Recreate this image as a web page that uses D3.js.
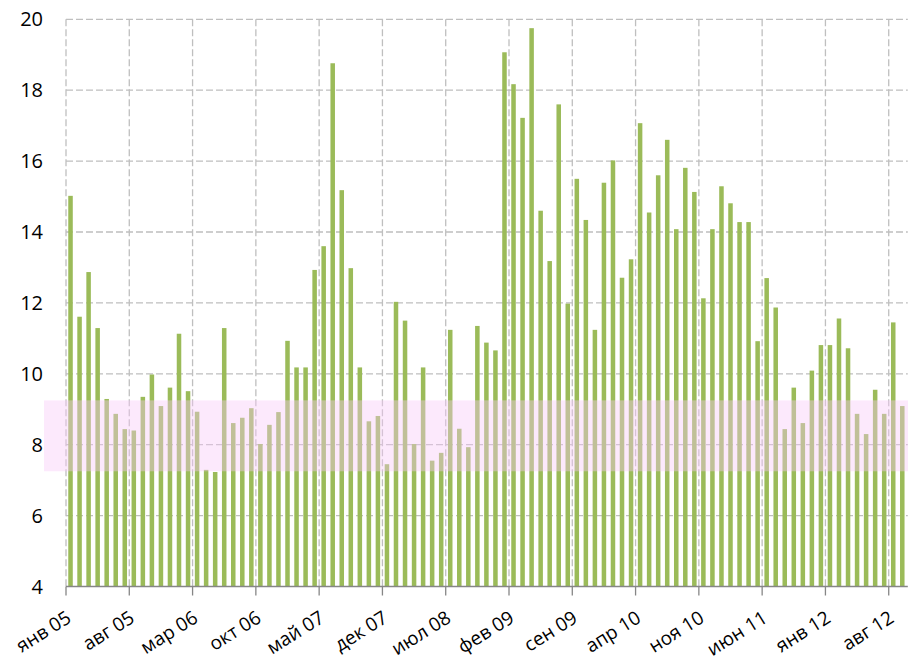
<!DOCTYPE html>
<html>
<head>
<meta charset="utf-8">
<script src="https://cdn.jsdelivr.net/npm/d3@7"></script>
<style>
  html, body { margin: 0; padding: 0; background: #ffffff; }
  svg { display: block; }
  text { font-family: "Open Sans", "Noto Sans", sans-serif; fill: #000; }
</style>
</head>
<body>
<svg id="chart" width="908" height="663"></svg>
<script>
// ---- data ----
const monthNames = ["янв","фев","мар","апр","май","июн","июл","авг","сен","окт","ноя","дек"];
const startYear = 2005;
const monthCount = 93; // Jan 2005 .. Sep 2012
const values = [
  15.02, 11.61, 12.87, 11.29, 9.29, 8.87, 8.44, 8.40, 9.35, 9.98, 9.09, 9.61,
  11.13, 9.51, 8.93, 7.29, 7.23, 11.29, 8.61, 8.76, 9.03, 8.02, 8.56, 8.92,
  10.93, 10.18, 10.18, 12.93, 13.60, 18.76, 15.18, 12.98, 10.18, 8.66, 8.81, 7.45,
  12.03, 11.50, 8.02, 10.18, 7.55, 7.77, 11.24, 8.45, 7.93, 11.35, 10.88, 10.66,
  19.07, 18.17, 17.22, 19.75, 14.60, 13.18, 17.60, 11.98, 15.50, 14.34, 11.24, 15.39,
  16.02, 12.71, 13.23, 17.07, 14.55, 15.60, 16.60, 14.08, 15.81, 15.13, 12.13, 14.08,
  15.29, 14.81, 14.28, 14.28, 10.92, 12.70, 11.87, 8.44, 9.61, 8.61, 10.09, 10.81,
  10.81, 11.56, 10.72, 8.87, 8.30, 9.55, 8.87, 11.45, 9.09
];
const tickLabels = ["янв 05","авг 05","мар 06","окт 06","май 07","дек 07","июл 08",
                    "фев 09","сен 09","апр 10","ноя 10","июн 11","янв 12","авг 12"];
const yTicks = [4, 6, 8, 10, 12, 14, 16, 18, 20];
const bandRange = [7.25, 9.25];

const categories = d3.range(monthCount).map(i =>
  monthNames[i % 12] + " " + String((startYear + Math.floor(i / 12)) % 100).padStart(2, "0"));

// ---- layout ----
const svg = d3.select("#chart");
const pLeft = 66, pRight = 906.8, pTop = 19.3, pBottom = 586.5;

const x = d3.scaleBand().domain(categories).range([pLeft, pRight])
  .paddingInner(0.5).paddingOuter(0.25);
const step = x.step();
const boundary = c => x(c) - step * x.paddingOuter();
const y = d3.scaleLinear().domain([4, 20]).range([pBottom, pTop]);

const tickCats = categories.filter(c => tickLabels.includes(c));

const grid = svg.append("g").attr("stroke", "#bfbfbf").attr("stroke-width", 1.3)
  .attr("stroke-dasharray", "7,3").attr("fill", "none");
// horizontal gridlines
grid.selectAll("line.h").data(yTicks.filter(t => t > 4)).join("line")
  .attr("x1", pLeft).attr("x2", pRight + 1)
  .attr("y1", d => y(d)).attr("y2", d => y(d));
// vertical gridlines
grid.selectAll("line.v").data(tickCats).join("line")
  .attr("x1", d => boundary(d)).attr("x2", d => boundary(d))
  .attr("y1", pTop).attr("y2", pBottom);

// bars
svg.append("g").selectAll("rect").data(values).join("rect")
  .attr("x", (d, i) => x(categories[i]))
  .attr("width", x.bandwidth())
  .attr("y", d => y(d))
  .attr("height", d => y(4) - y(d))
  .attr("fill", "#9bbb59");

// pink band
svg.append("rect")
  .attr("x", 44).attr("width", 908 - 44)
  .attr("y", y(bandRange[1])).attr("height", y(bandRange[0]) - y(bandRange[1]))
  .attr("fill", "rgb(248,200,248)").attr("fill-opacity", 0.4);

// x axis line + ticks
svg.append("line").attr("x1", pLeft).attr("x2", pRight + 1)
  .attr("y1", pBottom).attr("y2", pBottom)
  .attr("stroke", "#868686").attr("stroke-width", 1.3);
svg.append("g").selectAll("line").data(tickCats).join("line")
  .attr("x1", d => boundary(d)).attr("x2", d => boundary(d))
  .attr("y1", pBottom).attr("y2", pBottom + 9)
  .attr("stroke", "#868686").attr("stroke-width", 1.3);

// x labels
svg.append("g").selectAll("text").data(tickCats).join("text")
  .attr("transform", d => `translate(${boundary(d) + 3},${pBottom + 29}) rotate(-32)`)
  .attr("text-anchor", "end")
  .attr("dy", "0.35em")
  .style("font-size", "19px")
  .text(d => d);

// y labels
svg.append("g").selectAll("text").data(yTicks).join("text")
  .attr("x", 43).attr("y", d => y(d))
  .attr("dy", "0.35em")
  .attr("text-anchor", "end")
  .style("font-size", "20px")
  .text(d => d);
</script>
</body>
</html>
